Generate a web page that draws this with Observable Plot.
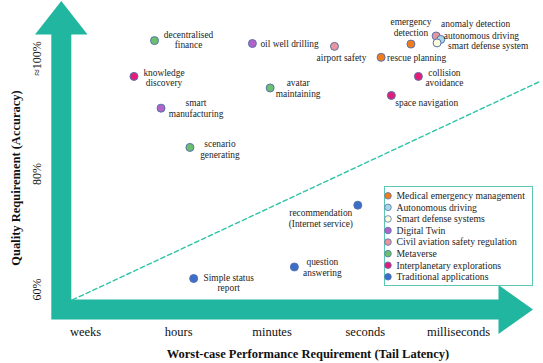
<!DOCTYPE html>
<html><head><meta charset="utf-8">
<script src="https://cdn.jsdelivr.net/npm/d3@7"></script>
<script src="https://cdn.jsdelivr.net/npm/@observablehq/plot@0.6"></script>
<style>
html,body{margin:0;padding:0;background:#fff;}
#chart{width:543px;height:363px;position:relative;}
</style></head><body><div id="chart"></div>
<script>
// ---- data ----
const latencyTicks = ["weeks", "hours", "minutes", "seconds", "milliseconds"];
const qualityTicks = [60, 80, 100];
const qualityTickLabels = ["60%", "80%", "≈100%"];
const xTitle = "Worst-case Performance Requirement (Tail Latency)";
const yTitle = "Quality Requirement (Accuracy)";

const categories = [
  "Medical emergency management",
  "Autonomous driving",
  "Smart defense systems",
  "Digital Twin",
  "Civil aviation safety regulation",
  "Metaverse",
  "Interplanetary explorations",
  "Traditional applications"
];
const categoryColors = ["#f07c1c", "#a9d7ea", "#fcfbdc", "#b163c6", "#e9959c", "#6cbf6e", "#e31c79", "#3b6ec8"];

const appNames = [
  "decentralised finance", "knowledge discovery", "smart manufacturing", "scenario generating",
  "oil well drilling", "airport safety", "avatar maintaining", "emergency detection",
  "rescue planning", "anomaly detection", "autonomous driving", "smart defense system",
  "collision avoidance", "space navigation", "recommendation", "question answering",
  "Simple status report"
];
const appLabels = [
  "decentralised\nfinance", "knowledge\ndiscovery", "smart\nmanufacturing", "scenario\ngenerating",
  "oil well drilling", "airport safety", "avatar\nmaintaining", "emergency\ndetection",
  "rescue planning", "anomaly detection", "autonomous driving", "smart defense system",
  "collision\navoidance", "space navigation", "recommendation\n(Internet service)", "question\nanswering",
  "Simple status\nreport"
];
const appCategory = [
  "Metaverse", "Interplanetary explorations", "Digital Twin", "Metaverse",
  "Digital Twin", "Civil aviation safety regulation", "Metaverse", "Medical emergency management",
  "Medical emergency management", "Civil aviation safety regulation", "Autonomous driving", "Smart defense systems",
  "Interplanetary explorations", "Interplanetary explorations", "Traditional applications", "Traditional applications",
  "Traditional applications"
];
// latency index: 0 = weeks ... 4 = milliseconds
const appLatency = [0.74, 0.52, 0.81, 1.12, 1.79, 2.67, 1.98, 3.49, 3.17, 3.76, 3.81, 3.77, 3.57, 3.28, 2.92, 2.24, 1.16];
// quality requirement in %
const appQuality = [103.1, 96.9, 91.4, 84.6, 102.6, 102.1, 94.9, 102.5, 100.2, 103.9, 103.3, 102.7, 96.9, 93.6, 74.6, 63.9, 61.9];

const refLineLatency = [-0.14, 4.87];
const refLineQuality = [58.2, 96.0];

// ---- label placement (layout only) ----
const labelLayout = {
  "decentralised finance": [34, -1, "middle"],
  "knowledge discovery": [30, 1, "middle"],
  "smart manufacturing": [35, 0, "middle"],
  "scenario generating": [30, 1.5, "middle"],
  "oil well drilling": [8, 0.5, "start"],
  "airport safety": [7, 11.5, "middle"],
  "avatar maintaining": [28, 0, "middle"],
  "emergency detection": [0, -17, "middle"],
  "rescue planning": [6, 0, "start"],
  "anomaly detection": [5, -12, "start"],
  "autonomous driving": [3, -3.5, "start"],
  "smart defense system": [11, 2.5, "start"],
  "collision avoidance": [26, 1, "middle"],
  "space navigation": [4, 7.5, "start"],
  "recommendation": [-37, 13, "middle"],
  "question answering": [28, 0, "middle"],
  "Simple status report": [35, 4, "middle"]
};

const apps = appNames.map((name, i) => ({
  name, label: appLabels[i], category: appCategory[i], latency: appLatency[i], quality: appQuality[i]
}));
const refLine = refLineLatency.map((l, i) => ({latency: l, quality: refLineQuality[i]}));

const TEAL = "#21b69f";
const FONT = "'Liberation Serif', 'Times New Roman', serif";

const labelMarks = apps.map(a => {
  const [dx, dy, anchor] = labelLayout[a.name];
  return Plot.text([a], {
    x: "latency", y: "quality", text: "label", dx, dy, textAnchor: anchor,
    lineAnchor: "middle", lineHeight: 1.12, fontSize: 9.4, fontFamily: FONT, fill: "#1e1e1e"
  });
});

const plot = Plot.plot({
  width: 543, height: 363,
  marginTop: 0, marginRight: 0, marginBottom: 0, marginLeft: 0,
  style: {fontFamily: FONT, background: "#fff", overflow: "visible"},
  x: {domain: [0, 4], range: [85, 458], axis: null},
  y: {domain: [60, 100], range: [289, 58], axis: null},
  color: {domain: categories, range: categoryColors},
  marks: [
    Plot.line(refLine, {x: "latency", y: "quality", stroke: "#2ec4a6", strokeWidth: 1.4, strokeDasharray: "4.5,3"}),
    Plot.dot(apps, {x: "latency", y: "quality", fill: "category", r: 4, stroke: "#5873ad", strokeWidth: 1}),
    ...labelMarks,
    Plot.text(latencyTicks, {x: (d, i) => i, text: d => d, frameAnchor: "bottom", dy: -32, textAnchor: "middle", lineAnchor: "middle", fontSize: 12.5, fontFamily: FONT, fill: "#111"}),
    Plot.text(qualityTicks, {y: d => d, text: (d, i) => qualityTickLabels[i], frameAnchor: "left", dx: 37, rotate: -90, textAnchor: "middle", lineAnchor: "middle", fontSize: 12, fontFamily: FONT, fill: "#111"}),
    Plot.text([xTitle], {frameAnchor: "bottom", dx: 36, dy: -10, textAnchor: "middle", lineAnchor: "middle", fontSize: 12.5, fontWeight: "bold", fontFamily: FONT, fill: "#111"}),
    Plot.text([yTitle], {frameAnchor: "left", dx: 15, dy: -4, rotate: -90, textAnchor: "middle", lineAnchor: "middle", fontSize: 12.5, fontWeight: "bold", fontFamily: FONT, fill: "#111"})
  ]
});

// ---- decorative axis arrows (drawn beneath marks) ----
const svg = d3.select(plot);
const g = svg.insert("g", "g");
const ax = {cx: 61.3, cy: 309.5, top: 34, right: 499, w: 20};
g.append("polyline")
  .attr("points", `${ax.cx},${ax.top} ${ax.cx},${ax.cy} ${ax.right},${ax.cy}`)
  .attr("fill", "none").attr("stroke", TEAL).attr("stroke-width", ax.w)
  .attr("stroke-linejoin", "miter").attr("stroke-linecap", "butt");
g.append("polygon").attr("points", `35,34.5 61.3,1 87.5,34.5`).attr("fill", TEAL);
g.append("polygon").attr("points", `498.5,285 533,309.5 498.5,334`).attr("fill", TEAL);

// ---- legend inside the chart ----
const leg = svg.append("g").attr("text-anchor", "start");
leg.append("rect").attr("x", 384.5).attr("y", 186.5).attr("width", 148).attr("height", 99)
  .attr("fill", "#fff").attr("stroke", "#5cc8b4").attr("stroke-width", 1);
categories.forEach((c, i) => {
  const y = 195.8 + i * 11.57;
  leg.append("circle").attr("cx", 388).attr("cy", y).attr("r", 3.3)
    .attr("fill", categoryColors[i]).attr("stroke", "#5873ad").attr("stroke-width", 0.8);
  leg.append("text").attr("x", 396.5).attr("y", y).attr("dy", "0.34em").attr("text-anchor", "start")
    .attr("font-family", FONT).attr("font-size", 9.7).attr("fill", "#1e1e1e").text(c);
});

document.getElementById("chart").appendChild(plot);
</script>
</body></html>
